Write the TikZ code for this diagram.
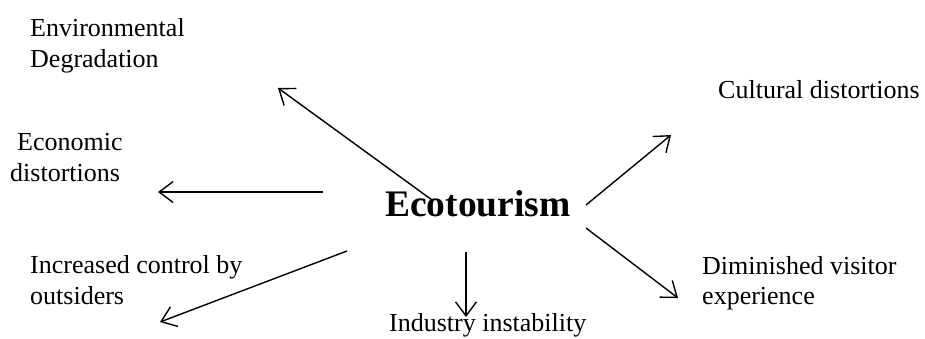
\documentclass[tikz,border=0pt]{standalone}
\usepackage{fontspec}
\setmainfont{Liberation Serif}
\usetikzlibrary{arrows.meta}
\tikzset{
  lbl/.style={anchor=base west, inner sep=0pt, font=\fontsize{26}{31}\selectfont},
  hub/.style={anchor=base west, inner sep=0pt, font=\fontsize{37.5}{44}\selectfont\bfseries},
  arr/.style={line width=1.4pt, -{Straight Barb[length=14pt,width=21pt,line width=1.4pt]}}
}
\begin{document}
\begin{tikzpicture}[x=1pt,y=-1pt]
\useasboundingbox (0,0) rectangle (925,338);
% labels
\node[lbl] (env1) at (30,36) {Environmental};
\node[lbl] (env2) at (30,67) {Degradation};
\node[lbl] (eco1) at (17,150) {Economic};
\node[lbl] (eco2) at (10,181) {distortions};
\node[lbl] (inc1) at (30,273) {Increased control by};
\node[lbl] (inc2) at (30,304) {outsiders};
\node[lbl] (ind) at (389,331) {Industry instability};
\node[lbl] (cul) at (718,98) {Cultural distortions};
\node[lbl] (dim1) at (702,274) {Diminished visitor};
\node[lbl] (dim2) at (702,304) {experience};
\node[hub] (eco) at (385,216) {Ecotourism};
% connector ends
\coordinate (s1) at (432,200); \coordinate (e1) at (278,88);
\coordinate (s2) at (323,192); \coordinate (e2) at (158,192);
\coordinate (s3) at (347,251); \coordinate (e3) at (160,322);
\coordinate (s4) at (466,252); \coordinate (e4) at (466,317);
\coordinate (s5) at (586,205); \coordinate (e5) at (671,135);
\coordinate (s6) at (586,228); \coordinate (e6) at (678,298);
\draw[arr] (s1) -- (e1);
\draw[arr] (s2) -- (e2);
\draw[arr] (s3) -- (e3);
\draw[arr] (s4) -- (e4);
\draw[arr] (s5) -- (e5);
\draw[arr] (s6) -- (e6);
\end{tikzpicture}
\end{document}
